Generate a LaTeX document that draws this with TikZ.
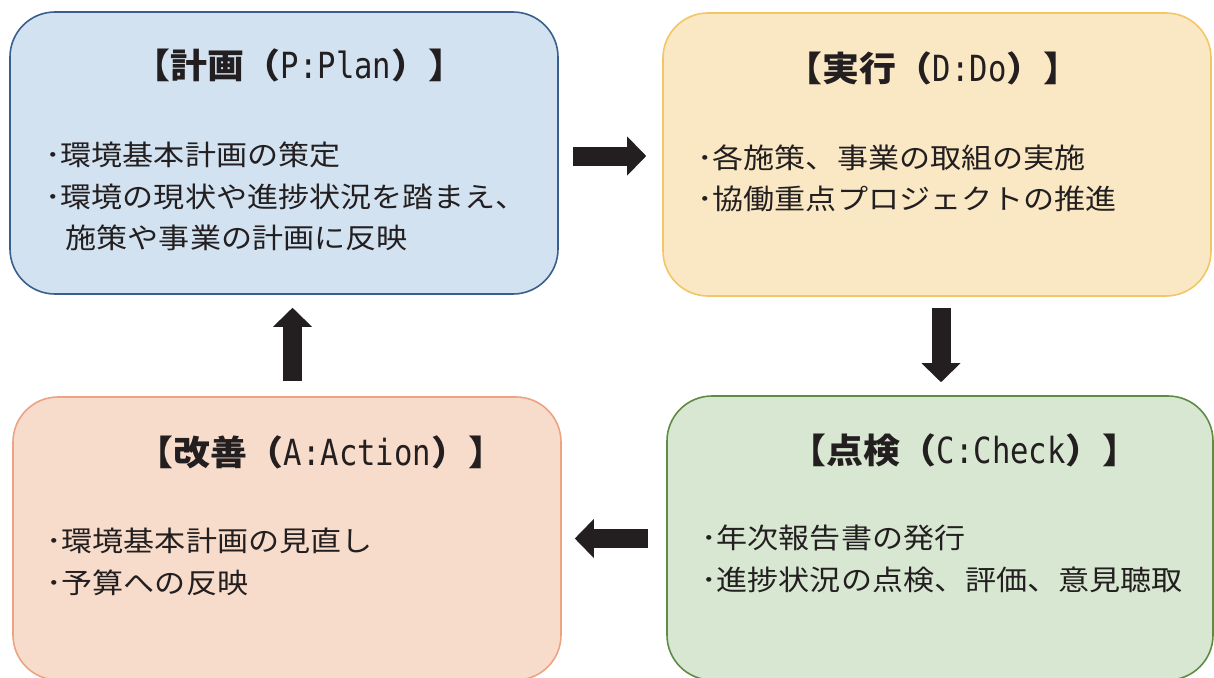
\documentclass[tikz,border=0pt]{standalone}
\usepackage{fontspec}
\usetikzlibrary{arrows.meta}
\newfontfamily\jpbody[FakeStretch=1.11]{Noto Sans CJK JP}
\newfontfamily\jptitle[FakeStretch=1.07]{Noto Sans CJK JP}
\newfontfamily\latmono[FakeStretch=0.85]{DejaVu Sans Mono}
\definecolor{txt}{HTML}{231F20}
\definecolor{arrowc}{HTML}{231F20}
\definecolor{pfill}{HTML}{D2E2F0}
\definecolor{pline}{HTML}{3A5F8E}
\definecolor{dfill}{HTML}{FAE8C5}
\definecolor{dline}{HTML}{F3C665}
\definecolor{afill}{HTML}{F8DCCB}
\definecolor{aline}{HTML}{EDA383}
\definecolor{cfill}{HTML}{D8E7D2}
\definecolor{cline}{HTML}{5F8B45}
\newcommand{\lat}[1]{{\latmono\mdseries\fontsize{36}{40}\selectfont #1}}
\tikzset{
  box/.style={rounded corners=45pt, line width=1.6pt, inner sep=0pt, anchor=center},
  ttl/.style={anchor=west, inner sep=0pt, text=txt, font=\jptitle\bfseries\fontsize{34.5}{40}\selectfont},
  body/.style={anchor=west, inner sep=0pt, text=txt, align=left, font=\jpbody\fontsize{28}{41.5}\selectfont},
  flow/.style={draw=arrowc, line width=19pt, -{Triangle[length=19pt,width=39pt,line width=0pt]}},
}
\begin{document}
\begin{tikzpicture}[x=1pt,y=-1pt]
\useasboundingbox (0,0) rectangle (1214,677);
\clip (0,0) rectangle (1214,677);
% boxes
\node[box, fill=pfill, draw=pline, minimum width=548pt, minimum height=282pt] (P) at (284,153) {};
\node[box, fill=dfill, draw=dline, minimum width=548pt, minimum height=283pt] (D) at (937,154.5) {};
\node[box, fill=afill, draw=aline, minimum width=548pt, minimum height=283pt] (A) at (287,538.5) {};
\node[box, fill=cfill, draw=cline, minimum width=546pt, minimum height=284pt] (C) at (940,538) {};
% titles
\node[ttl] (Pt) at (133,65) {【計画（\lat{P:Plan}）】};
\node[ttl] (Dt) at (785,68) {【実行（\lat{D:Do}）】};
\node[ttl] (At) at (136,452) {【改善（\lat{A:Action}）】};
\node[ttl] (Ct) at (789,450) {【点検（\lat{C:Check}）】};
% bodies
\node[body] (Pb) at (45,196.5) {･環境基本計画の策定\\･環境の現状や進捗状況を踏まえ、\\\hspace*{20.5pt}施策や事業の計画に反映};
\node[body] (Db) at (697,178.5) {･各施策、事業の取組の実施\\･協働重点プロジェクトの推進};
\node[body] (Ab) at (46,562) {･環境基本計画の見直し\\･予算への反映};
\node[body] (Cb) at (701,559) {･年次報告書の発行\\･進捗状況の点検、評価、意見聴取};
% connectors
\draw[flow, shorten <=14pt, shorten >=16pt] ([yshift=-3pt]P.east) -- ([yshift=-1.5pt]D.west);
\draw[flow, shorten <=11pt, shorten >=13pt] ([xshift=4pt]D.south) -- ([xshift=1pt]C.north);
\draw[flow, shorten <=18pt, shorten >=13pt] ([yshift=-0.5pt]C.west) -- ([yshift=0pt]A.east);
\draw[flow, shorten <=15pt, shorten >=13pt] ([xshift=5.5pt]A.north) -- ([xshift=8.5pt]P.south);
\end{tikzpicture}
\end{document}
